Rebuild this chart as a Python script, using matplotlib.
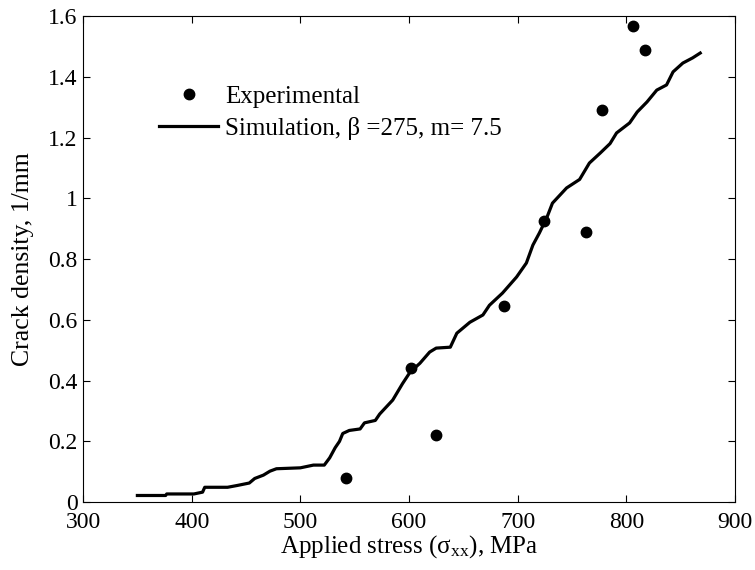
import matplotlib
matplotlib.use("Agg")
import matplotlib.pyplot as plt

plt.rcParams['font.family'] = ['Liberation Serif', 'DejaVu Serif']
plt.rcParams['mathtext.fontset'] = 'custom'
plt.rcParams['mathtext.rm'] = 'Liberation Serif'
plt.rcParams['mathtext.it'] = 'Liberation Serif'

# Experimental data
exp_stress = [542, 602, 625, 687, 724, 763, 778, 806, 817]
exp_density = [0.079, 0.44, 0.22, 0.645, 0.925, 0.889, 1.29, 1.567, 1.488]

# Simulation curve
sim_stress = [350, 376, 377, 402, 410, 412, 433, 442, 453, 458, 466, 472, 478,
              500, 512, 522, 527, 532, 536, 539, 545, 555, 559, 569, 573,
              585, 594, 601, 610, 619, 625, 638, 644, 656, 668, 674, 686, 699,
              708, 714, 720, 727, 732, 745, 757, 766, 776, 785, 791, 803, 810,
              819, 828, 837, 843, 852, 861, 868]
sim_density = [0.022, 0.022, 0.027, 0.027, 0.033, 0.049, 0.049, 0.055, 0.063,
               0.078, 0.089, 0.102, 0.110, 0.113, 0.122, 0.122, 0.146, 0.179,
               0.200, 0.226, 0.236, 0.241, 0.261, 0.269, 0.290,
               0.336, 0.39, 0.428, 0.457, 0.494, 0.507, 0.51, 0.556, 0.592,
               0.616, 0.648, 0.688, 0.741, 0.787, 0.846, 0.886, 0.938, 0.984,
               1.034, 1.062, 1.116, 1.149, 1.18, 1.215, 1.248, 1.284, 1.317,
               1.356, 1.373, 1.416, 1.445, 1.462, 1.478]

fig = plt.figure(figsize=(7.55, 5.7), dpi=100)
ax = fig.add_axes([0.110, 0.119, 0.8635, 0.853])

ax.plot(exp_stress, exp_density, 'o', color='black', markersize=7.5,
        label='Experimental')
ax.plot(sim_stress, sim_density, '-', color='black', linewidth=2.3,
        label='Simulation, β =275, m= 7.5')

ax.set_xlim(300, 900)
ax.set_ylim(0, 1.6)
ax.set_xticks([300, 400, 500, 600, 700, 800, 900])
ax.set_yticks([0, 0.2, 0.4, 0.6, 0.8, 1.0, 1.2, 1.4, 1.6])
ax.set_yticklabels(['0', '0.2', '0.4', '0.6', '0.8', '1', '1.2', '1.4', '1.6'])
ax.tick_params(direction='in', top=True, right=True, labelsize=17, length=5,
               width=0.8)
ax.tick_params(axis='x', pad=7)
ax.tick_params(axis='y', pad=4)
for s in ax.spines.values():
    s.set_linewidth(0.8)

ax.set_xlabel(r'Applied stress (σ$_{\rm xx}$), MPa', fontsize=18, labelpad=0)
ax.set_ylabel('Crack density, 1/mm', fontsize=18.5, labelpad=10)

ax.legend(loc='upper left', bbox_to_anchor=(0.1166, 0.858), frameon=False,
          fontsize=18, handlelength=2.36, handletextpad=0.28, labelspacing=0.36,
          borderaxespad=0, borderpad=0)

fig.savefig('out.png', dpi=100)
